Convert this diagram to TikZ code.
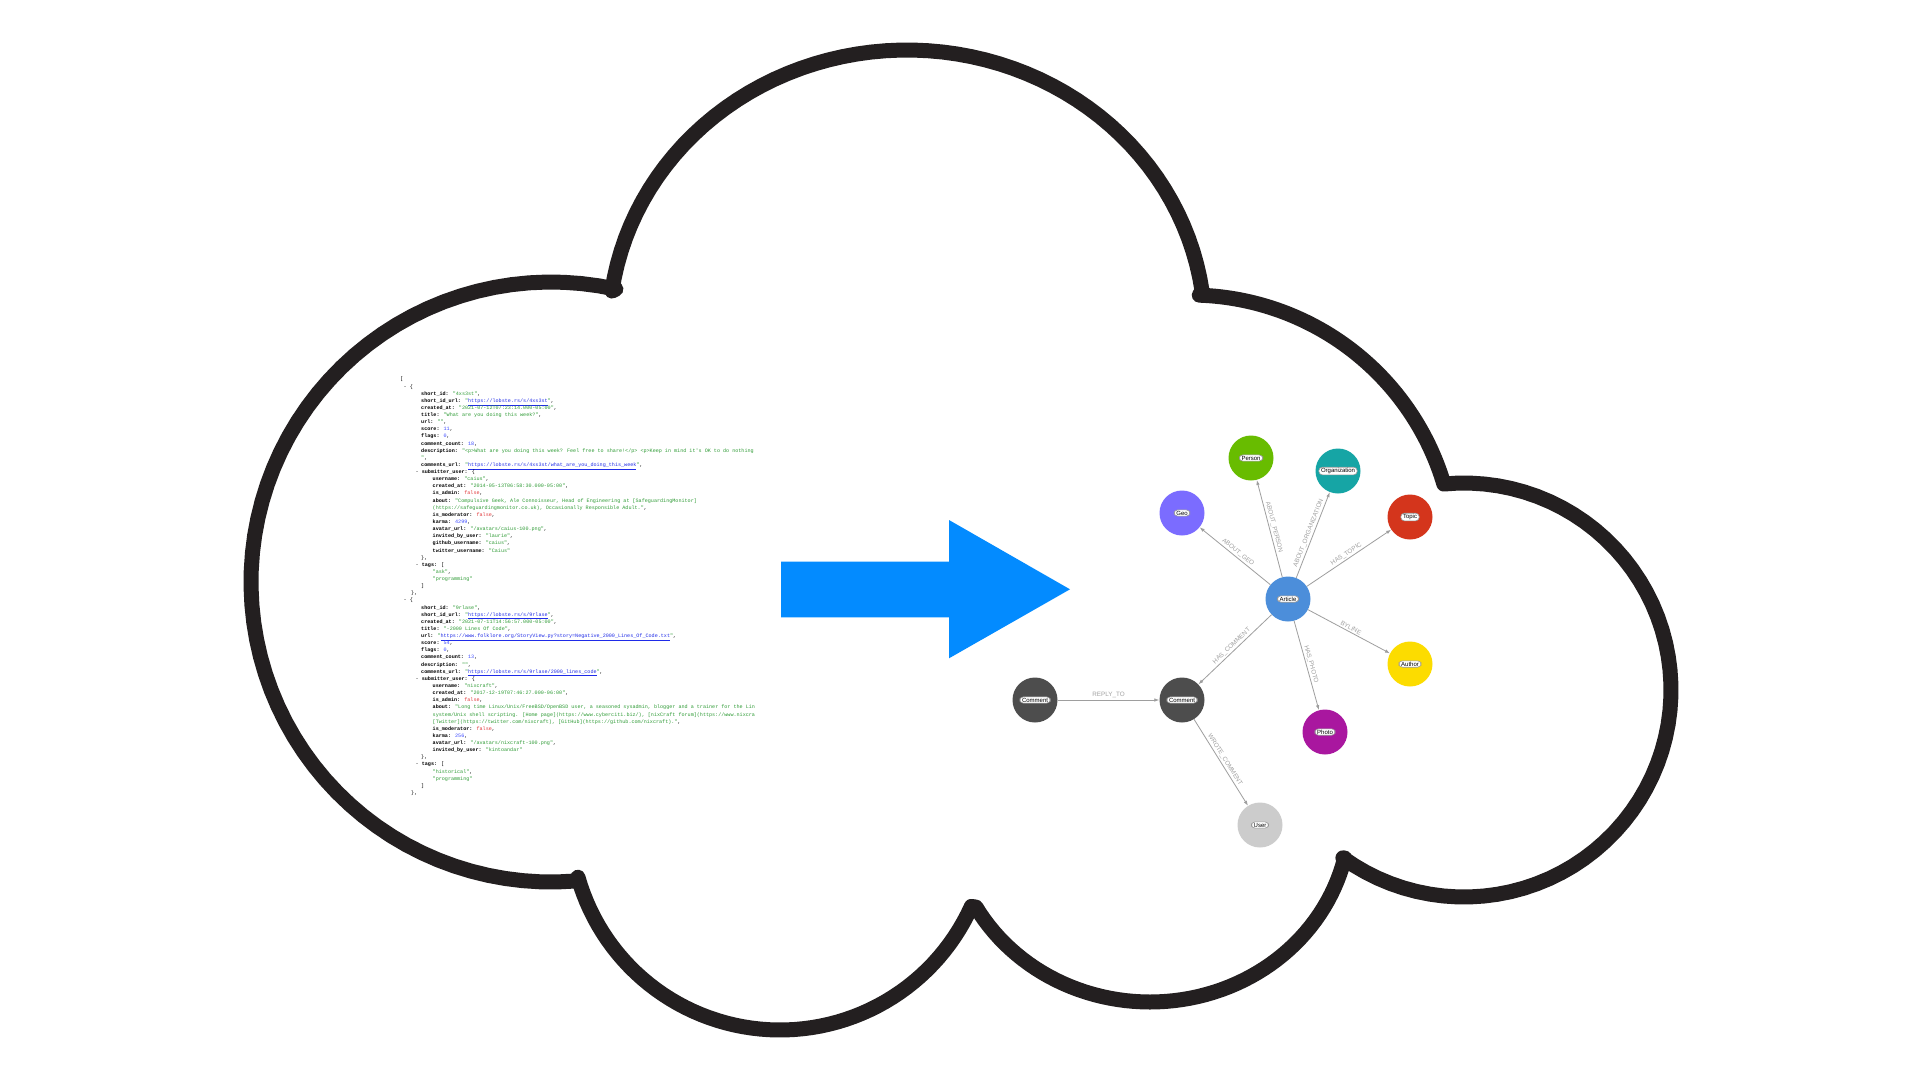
\documentclass[tikz,border=0pt]{standalone}
\usepackage{fontspec}
\setmainfont{Liberation Sans}
\newfontfamily\jsonfont{Liberation Mono}
\usepackage{xcolor}
\usetikzlibrary{arrows.meta}

\definecolor{cloudink}{HTML}{231F20}
\definecolor{arrowblue}{HTML}{038BFF}
\definecolor{jsongreen}{HTML}{2E9B35}
\definecolor{jsonblue}{HTML}{3D4BFF}
\definecolor{jsonred}{HTML}{E2383A}
\definecolor{linkblue}{HTML}{1F2BE8}
\definecolor{edgegrey}{HTML}{9E9E9E}
\definecolor{labelgrey}{HTML}{A0A0A0}
\definecolor{articleblue}{HTML}{4C8EDA}
\definecolor{persongreen}{HTML}{68BC00}
\definecolor{orgteal}{HTML}{16A5A5}
\definecolor{geopurple}{HTML}{7B6CFF}
\definecolor{topicred}{HTML}{D4351C}
\definecolor{authoryellow}{HTML}{FCDC00}
\definecolor{photomagenta}{HTML}{A9179F}
\definecolor{commentgrey}{HTML}{4D4D4D}
\definecolor{usergrey}{HTML}{CCCCCC}

\newcommand{\jkey}[1]{\textbf{#1:} }
\newcommand{\jstr}[1]{\textcolor{jsongreen}{"#1"}}
\newcommand{\jnum}[1]{\textcolor{jsonblue}{#1}}
\newcommand{\jfalse}{\textcolor{jsonred}{false}}
\newcommand{\jurl}[1]{\textcolor{jsongreen}{"}\textcolor{linkblue}{\underline{#1}}\textcolor{jsongreen}{"}}
\newcommand{\lvl}[1]{\hspace*{#1pt}}

\begin{document}
\begin{tikzpicture}[x=1pt,y=-1pt,
    gnode/.style={circle,minimum size=45pt,inner sep=0pt},
    pill/.style={draw=gray!80,fill=white,line width=0.6pt,rounded corners=3.5pt,
      inner xsep=2.2pt,inner ysep=1pt,text=black,font=\fontsize{6pt}{6.5pt}\selectfont},
    rel/.style={draw=edgegrey,line width=0.8pt,-{Latex[length=5pt,width=3.5pt]}},
    rellabel/.style={sloped,above,inner sep=1.5pt,text=labelgrey,font=\fontsize{6.3pt}{6.5pt}\selectfont}]
    \useasboundingbox (0,0) rectangle (1920,1080);
    \fill[white] (0,0) rectangle (1920,1080);

    % cloud outline, lobe by lobe
    \draw[cloudink,line width=15pt,line join=round,samples=60]
        plot[domain=172:8] ({907+298*cos(\x)},{330-280*sin(\x)})
     -- plot[domain=88:17.5] ({1190+265*cos(\x)},{560-265*sin(\x)})
     -- plot[domain=95.6:-125.8] ({1464+207*cos(\x)},{690-207*sin(\x)})
     -- plot[domain=-13.3:-150.5] ({1150+200*cos(\x)},{815-187*sin(\x)})
     -- plot[domain=-24.3:-164.2] ({780+210*cos(\x)},{820-210*sin(\x)})
     -- plot[domain=274.6:77.5] ({551+300*cos(\x)},{582-300*sin(\x)})
     -- cycle;

    \node[anchor=north west,inner sep=0pt,align=left,
          font=\jsonfont\fontsize{5.1pt}{7.13pt}\selectfont] (json) at (400,377) {[\\
\lvl{3.5}- \{\\
\lvl{21}\jkey{short\_id}\jstr{4xs3st},\\
\lvl{21}\jkey{short\_id\_url}\jurl{https://lobste.rs/s/4xs3st},\\
\lvl{21}\jkey{created\_at}\jstr{2021-07-12T07:23:14.000-05:00},\\
\lvl{21}\jkey{title}\jstr{What are you doing this week?},\\
\lvl{21}\jkey{url}\jstr{},\\
\lvl{21}\jkey{score}\jnum{11},\\
\lvl{21}\jkey{flags}\jnum{0},\\
\lvl{21}\jkey{comment\_count}\jnum{18},\\
\lvl{21}\jkey{description}\textcolor{jsongreen}{"<p>What are you doing this week? Feel free to share!</p> <p>Keep in mind it\textquotesingle s OK to do nothing}\\
\lvl{21}\textcolor{jsongreen}{"},\\
\lvl{21}\jkey{comments\_url}\jurl{https://lobste.rs/s/4xs3st/what\_are\_you\_doing\_this\_week},\\
\lvl{15.5}- \jkey{submitter\_user}\{\\
\lvl{32.5}\jkey{username}\jstr{caius},\\
\lvl{32.5}\jkey{created\_at}\jstr{2014-05-13T06:58:30.000-05:00},\\
\lvl{32.5}\jkey{is\_admin}\jfalse,\\
\lvl{32.5}\jkey{about}\textcolor{jsongreen}{"Compulsive Geek, Ale Connoisseur, Head of Engineering at [SafeguardingMonitor]}\\
\lvl{32.5}\textcolor{jsongreen}{(https://safeguardingmonitor.co.uk), Occasionally Responsible Adult."},\\
\lvl{32.5}\jkey{is\_moderator}\jfalse,\\
\lvl{32.5}\jkey{karma}\jnum{4299},\\
\lvl{32.5}\jkey{avatar\_url}\jstr{/avatars/caius-100.png},\\
\lvl{32.5}\jkey{invited\_by\_user}\jstr{laurie},\\
\lvl{32.5}\jkey{github\_username}\jstr{caius},\\
\lvl{32.5}\jkey{twitter\_username}\jstr{Caius}\\
\lvl{21}\},\\
\lvl{15.5}- \jkey{tags}[\\
\lvl{32.5}\jstr{ask},\\
\lvl{32.5}\jstr{programming}\\
\lvl{21}]\\
\lvl{11}\},\\
\lvl{3.5}- \{\\
\lvl{21}\jkey{short\_id}\jstr{9rlase},\\
\lvl{21}\jkey{short\_id\_url}\jurl{https://lobste.rs/s/9rlase},\\
\lvl{21}\jkey{created\_at}\jstr{2021-07-11T14:56:57.000-05:00},\\
\lvl{21}\jkey{title}\jstr{-2000 Lines Of Code},\\
\lvl{21}\jkey{url}\jurl{https://www.folklore.org/StoryView.py?story=Negative\_2000\_Lines\_Of\_Code.txt},\\
\lvl{21}\jkey{score}\jnum{54},\\
\lvl{21}\jkey{flags}\jnum{0},\\
\lvl{21}\jkey{comment\_count}\jnum{13},\\
\lvl{21}\jkey{description}\jstr{},\\
\lvl{21}\jkey{comments\_url}\jurl{https://lobste.rs/s/9rlase/2000\_lines\_code},\\
\lvl{15.5}- \jkey{submitter\_user}\{\\
\lvl{32.5}\jkey{username}\jstr{nixcraft},\\
\lvl{32.5}\jkey{created\_at}\jstr{2017-12-19T07:46:27.000-06:00},\\
\lvl{32.5}\jkey{is\_admin}\jfalse,\\
\lvl{32.5}\jkey{about}\textcolor{jsongreen}{"Long time Linux/Unix/FreeBSD/OpenBSD user, a seasoned sysadmin, blogger and a trainer for the Lin}\\
\lvl{32.5}\textcolor{jsongreen}{system/Unix shell scripting. [Home page](https://www.cyberciti.biz/), [nixCraft forum](https://www.nixcra}\\
\lvl{32.5}\textcolor{jsongreen}{[Twitter](https://twitter.com/nixcraft), [GitHub](https://github.com/nixcraft)."},\\
\lvl{32.5}\jkey{is\_moderator}\jfalse,\\
\lvl{32.5}\jkey{karma}\jnum{256},\\
\lvl{32.5}\jkey{avatar\_url}\jstr{/avatars/nixcraft-100.png},\\
\lvl{32.5}\jkey{invited\_by\_user}\jstr{kintoandar}\\
\lvl{21}\},\\
\lvl{15.5}- \jkey{tags}[\\
\lvl{32.5}\jstr{historical},\\
\lvl{32.5}\jstr{programming}\\
\lvl{21}]\\
\lvl{11}\},};

    \fill[arrowblue] (781,561.7) -- (949,561.7) -- (949,520) -- (1070,589.3)
        -- (949,658.3) -- (949,617.3) -- (781,617.3) -- cycle;

    \node[gnode,fill=articleblue,label={[pill]center:Article}] (article) at (1288,599) {};
    \node[gnode,fill=persongreen,label={[pill]center:Person}] (person) at (1251,458) {};
    \node[gnode,fill=orgteal,label={[pill]center:Organization}] (organization) at (1338,471) {};
    \node[gnode,fill=geopurple,label={[pill]center:Geo}] (geo) at (1182,513) {};
    \node[gnode,fill=topicred,label={[pill]center:Topic}] (topic) at (1410,517) {};
    \node[gnode,fill=authoryellow,label={[pill]center:Author}] (author) at (1410,664) {};
    \node[gnode,fill=photomagenta,label={[pill]center:Photo}] (photo) at (1325,732) {};
    \node[gnode,fill=commentgrey,label={[pill]center:Comment}] (comment) at (1182,700) {};
    \node[gnode,fill=commentgrey,label={[pill]center:Comment}] (reply) at (1035,700) {};
    \node[gnode,fill=usergrey,label={[pill]center:User}] (user) at (1260,825) {};

    \draw[rel] (article) -- node[rellabel] {ABOUT\_GEO} (geo);
    \draw[rel] (article) -- node[rellabel] {ABOUT\_PERSON} (person);
    \draw[rel] (article) -- node[rellabel] {ABOUT\_ORGANIZATION} (organization);
    \draw[rel] (article) -- node[rellabel] {HAS\_TOPIC} (topic);
    \draw[rel] (article) -- node[rellabel] {BYLINE} (author);
    \draw[rel] (article) -- node[rellabel] {HAS\_PHOTO} (photo);
    \draw[rel] (article) -- node[rellabel] {HAS\_COMMENT} (comment);
    \draw[rel] (reply) -- node[rellabel] {REPLY\_TO} (comment);
    \draw[rel] (comment) -- node[rellabel] {WROTE\_COMMENT} (user);
\end{tikzpicture}
\end{document}
